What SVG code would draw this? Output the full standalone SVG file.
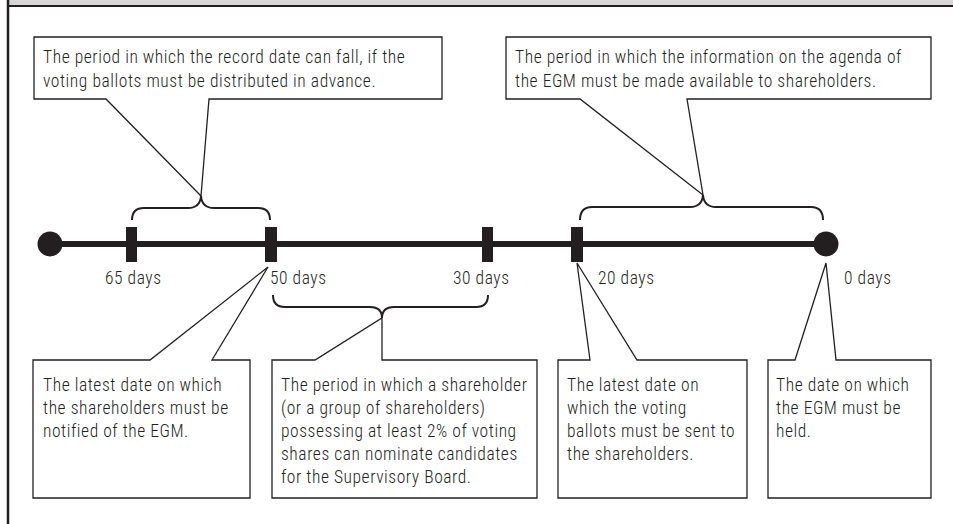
<svg xmlns="http://www.w3.org/2000/svg" width="953" height="524" viewBox="0 0 953 524">
<style>
.t{font-family:"Liberation Sans Narrow","Roboto Condensed","DejaVu Sans Condensed","Liberation Sans",sans-serif;font-size:17.5px;font-weight:300;letter-spacing:0.55px;fill:#231f20}
.box{fill:#fff;stroke:#231f20;stroke-width:1.3}
.br{fill:none;stroke:#231f20;stroke-width:2}
.tk{fill:#231f20}
</style>
<rect x="0" y="0" width="953" height="524" fill="#fff"/>
<rect x="7" y="0" width="946" height="6" fill="#d6d6d6"/>
<line x1="7" y1="6" x2="953" y2="6" stroke="#231f20" stroke-width="2.2"/>
<line x1="8" y1="0" x2="8" y2="524" stroke="#231f20" stroke-width="2.5"/>

<g id="timeline">
<line x1="50" y1="244" x2="826" y2="244" stroke="#231f20" stroke-width="6"/>
<circle cx="50" cy="244" r="12.5" class="tk"/>
<circle cx="826" cy="244" r="12.5" class="tk"/>
<rect x="126" y="227" width="11" height="35" class="tk"/>
<rect x="265" y="227" width="12" height="35" class="tk"/>
<rect x="482" y="227" width="11" height="35" class="tk"/>
<rect x="571" y="227" width="12" height="35" class="tk"/>
<text class="t" x="105" y="284">65 days</text>
<text class="t" x="270" y="284">50 days</text>
<text class="t" x="453" y="284">30 days</text>
<text class="t" x="598" y="284">20 days</text>
<text class="t" x="844" y="284">0 days</text>
</g>

<g id="connectors">
<path class="br" d="M132 220 Q132 208 144 208 L188 208 Q200 208 201 196 Q202 208 214 208 L258 208 Q270 208 270 220"/>
<path class="br" d="M580 220 Q580 207 592 207 L690 207 Q702 207 703 195 Q704 207 716 207 L811 207 Q823 207 823 220"/>
<path class="br" d="M273 295 Q273 307 285 307 L370 307 Q382 307 382 318 Q382 307 394 307 L476 307 Q488 307 488 295"/>
</g>

<g id="box-record">
<path class="box" d="M34 37 H442 V99 H209 L201 196 L106 99 H34 Z"/>
<text class="t" x="43" y="63">The period in which the record date can fall, if the</text>
<text class="t" x="43" y="87">voting ballots must be distributed in advance.</text>
</g>

<g id="box-agenda">
<path class="box" d="M506 37 H931 V99 H687 L703 195 L580 99 H506 Z"/>
<text class="t" x="515" y="63">The period in which the information on the agenda of</text>
<text class="t" x="515" y="87">the EGM must be made available to shareholders.</text>
</g>

<g id="box-notify">
<path class="box" d="M33 360 H150 L268 267 L212 360 H250 V498 H33 Z"/>
<text class="t" x="43" y="391">The latest date on which</text>
<text class="t" x="43" y="414">the shareholders must be</text>
<text class="t" x="43" y="437">notified of the EGM.</text>
</g>

<g id="box-nominate">
<path class="box" d="M272 360 H315 L382 318 V360 H537 V498 H272 Z"/>
<text class="t" x="281" y="391">The period in which a shareholder</text>
<text class="t" x="281" y="414">(or a group of shareholders)</text>
<text class="t" x="281" y="437">possessing at least 2% of voting</text>
<text class="t" x="281" y="460">shares can nominate candidates</text>
<text class="t" x="281" y="483">for the Supervisory Board.</text>
</g>

<g id="box-ballots">
<path class="box" d="M558 360 H590 L577 263 L637 360 H747 V498 H558 Z"/>
<text class="t" x="567" y="391">The latest date on</text>
<text class="t" x="567" y="414">which the voting</text>
<text class="t" x="567" y="437">ballots must be sent to</text>
<text class="t" x="567" y="460">the shareholders.</text>
</g>

<g id="box-egm">
<path class="box" d="M768 360 H795 L826 263 L836 360 H931 V498 H768 Z"/>
<text class="t" x="776" y="391">The date on which</text>
<text class="t" x="776" y="414">the EGM must be</text>
<text class="t" x="776" y="437">held.</text>
</g>
</svg>
